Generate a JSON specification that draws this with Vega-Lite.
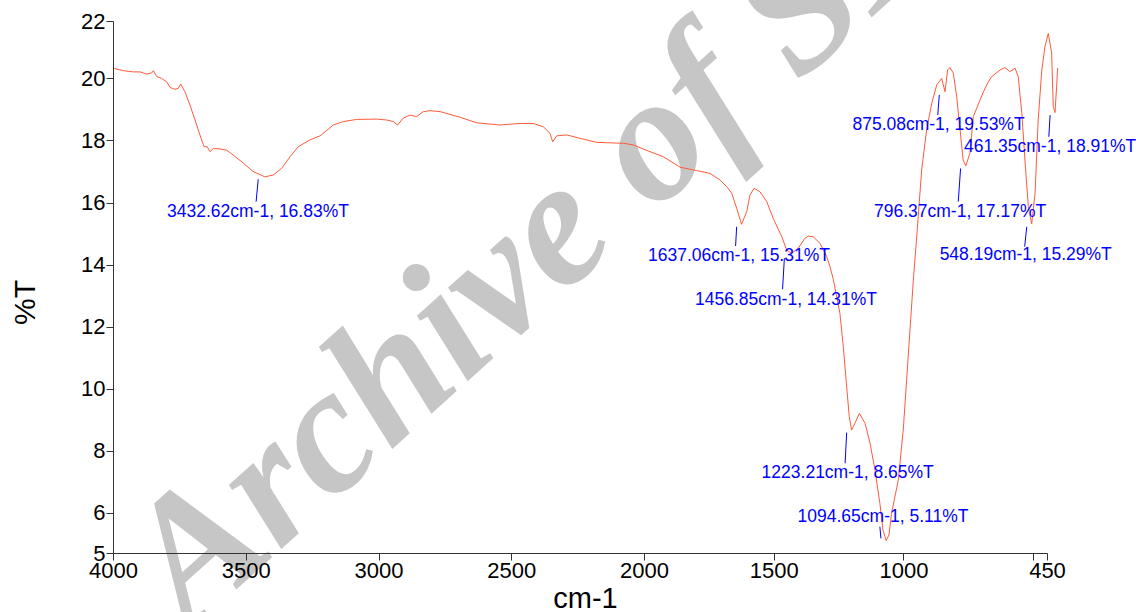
{
  "$schema": "https://vega.github.io/schema/vega-lite/v6.json",
  "width": 934,
  "height": 532,
  "autosize": "none",
  "padding": {"left": 113, "top": 21, "right": 89, "bottom": 59},
  "background": "white",
  "config": {"view": {"stroke": null}, "font": "Liberation Sans"},
  "datasets": {
    "spectrum": [
      {"wn": 4000, "t": 20.33}, {"wn": 3961, "t": 20.25}, {"wn": 3924, "t": 20.21}, {"wn": 3898, "t": 20.21},
      {"wn": 3873, "t": 20.14}, {"wn": 3854, "t": 20.18}, {"wn": 3848, "t": 20.25}, {"wn": 3835, "t": 20.06},
      {"wn": 3817, "t": 20.0}, {"wn": 3798, "t": 19.89}, {"wn": 3785, "t": 19.71}, {"wn": 3767, "t": 19.65},
      {"wn": 3754, "t": 19.68}, {"wn": 3745, "t": 19.82}, {"wn": 3729, "t": 19.57}, {"wn": 3710, "t": 19.14},
      {"wn": 3691, "t": 18.66}, {"wn": 3679, "t": 18.34}, {"wn": 3666, "t": 18.02}, {"wn": 3657, "t": 17.8},
      {"wn": 3645, "t": 17.8}, {"wn": 3635, "t": 17.64}, {"wn": 3622, "t": 17.74}, {"wn": 3597, "t": 17.73},
      {"wn": 3572, "t": 17.69}, {"wn": 3547, "t": 17.53}, {"wn": 3509, "t": 17.27}, {"wn": 3472, "t": 17.0},
      {"wn": 3428, "t": 16.83}, {"wn": 3396, "t": 16.89}, {"wn": 3365, "t": 17.1}, {"wn": 3333, "t": 17.48},
      {"wn": 3302, "t": 17.8}, {"wn": 3258, "t": 18.02}, {"wn": 3220, "t": 18.15}, {"wn": 3170, "t": 18.5},
      {"wn": 3133, "t": 18.61}, {"wn": 3082, "t": 18.68}, {"wn": 3007, "t": 18.69}, {"wn": 2969, "t": 18.66},
      {"wn": 2944, "t": 18.61}, {"wn": 2928, "t": 18.5}, {"wn": 2907, "t": 18.72}, {"wn": 2881, "t": 18.82},
      {"wn": 2856, "t": 18.77}, {"wn": 2831, "t": 18.93}, {"wn": 2806, "t": 18.96}, {"wn": 2768, "t": 18.93},
      {"wn": 2693, "t": 18.75}, {"wn": 2630, "t": 18.57}, {"wn": 2543, "t": 18.5}, {"wn": 2467, "t": 18.55},
      {"wn": 2417, "t": 18.55}, {"wn": 2379, "t": 18.44}, {"wn": 2354, "t": 18.23}, {"wn": 2344, "t": 17.96},
      {"wn": 2329, "t": 18.15}, {"wn": 2291, "t": 18.18}, {"wn": 2241, "t": 18.07}, {"wn": 2178, "t": 17.94},
      {"wn": 2078, "t": 17.91}, {"wn": 2041, "t": 17.86}, {"wn": 1977, "t": 17.64}, {"wn": 1926, "t": 17.48},
      {"wn": 1861, "t": 17.14}, {"wn": 1797, "t": 17.03}, {"wn": 1746, "t": 16.94}, {"wn": 1707, "t": 16.73},
      {"wn": 1681, "t": 16.51}, {"wn": 1662, "t": 16.3}, {"wn": 1643, "t": 15.82}, {"wn": 1624, "t": 15.3},
      {"wn": 1604, "t": 15.71}, {"wn": 1592, "t": 16.24}, {"wn": 1576, "t": 16.46}, {"wn": 1553, "t": 16.35},
      {"wn": 1527, "t": 16.03}, {"wn": 1502, "t": 15.49}, {"wn": 1469, "t": 14.9}, {"wn": 1450, "t": 14.47},
      {"wn": 1431, "t": 14.37}, {"wn": 1405, "t": 14.53}, {"wn": 1380, "t": 14.85}, {"wn": 1367, "t": 14.92},
      {"wn": 1348, "t": 14.9}, {"wn": 1322, "t": 14.69}, {"wn": 1296, "t": 14.26}, {"wn": 1283, "t": 13.93},
      {"wn": 1270, "t": 13.51}, {"wn": 1245, "t": 12.43}, {"wn": 1232, "t": 11.36}, {"wn": 1219, "t": 10.07},
      {"wn": 1209, "t": 9.1}, {"wn": 1200, "t": 8.67}, {"wn": 1187, "t": 8.89}, {"wn": 1170, "t": 9.21},
      {"wn": 1148, "t": 8.89}, {"wn": 1129, "t": 8.25}, {"wn": 1110, "t": 7.39}, {"wn": 1091, "t": 6.31},
      {"wn": 1079, "t": 5.45}, {"wn": 1067, "t": 5.11}, {"wn": 1056, "t": 5.29}, {"wn": 1046, "t": 5.99},
      {"wn": 1020, "t": 7.06}, {"wn": 1001, "t": 8.67}, {"wn": 988, "t": 10.28}, {"wn": 962, "t": 13.51},
      {"wn": 949, "t": 14.9}, {"wn": 930, "t": 17.05}, {"wn": 911, "t": 18.34}, {"wn": 891, "t": 19.2},
      {"wn": 872, "t": 19.79}, {"wn": 853, "t": 20.0}, {"wn": 840, "t": 19.57}, {"wn": 830, "t": 20.27},
      {"wn": 821, "t": 20.35}, {"wn": 808, "t": 20.17}, {"wn": 795, "t": 19.41}, {"wn": 782, "t": 18.34},
      {"wn": 770, "t": 17.37}, {"wn": 760, "t": 17.18}, {"wn": 744, "t": 17.59}, {"wn": 731, "t": 18.77},
      {"wn": 718, "t": 19.04}, {"wn": 692, "t": 19.57}, {"wn": 673, "t": 19.89}, {"wn": 660, "t": 20.06},
      {"wn": 628, "t": 20.27}, {"wn": 609, "t": 20.35}, {"wn": 590, "t": 20.22}, {"wn": 570, "t": 20.33},
      {"wn": 558, "t": 20.06}, {"wn": 544, "t": 18.88}, {"wn": 532, "t": 17.37}, {"wn": 519, "t": 15.87},
      {"wn": 506, "t": 15.31}, {"wn": 493, "t": 16.3}, {"wn": 481, "t": 18.66}, {"wn": 467, "t": 20.27},
      {"wn": 455, "t": 21.02}, {"wn": 442, "t": 21.45}, {"wn": 429, "t": 20.81}, {"wn": 423, "t": 19.09},
      {"wn": 416, "t": 18.9}, {"wn": 410, "t": 19.73}, {"wn": 406, "t": 20.33}
    ],
    "peaks": [
      {"label": "3432.62cm-1, 16.83%T", "x1": 3453, "y1": 16.75, "x2": 3461, "y2": 16.03, "lx": 3454, "ly": 15.71},
      {"label": "1637.06cm-1, 15.31%T", "x1": 1643, "y1": 15.22, "x2": 1647, "y2": 14.6, "lx": 1634, "ly": 14.28},
      {"label": "1456.85cm-1, 14.31%T", "x1": 1459, "y1": 14.21, "x2": 1466, "y2": 13.21, "lx": 1453, "ly": 12.86},
      {"label": "1223.21cm-1, 8.65%T", "x1": 1219, "y1": 8.59, "x2": 1225, "y2": 7.6, "lx": 1215, "ly": 7.28},
      {"label": "1094.65cm-1, 5.11%T", "x1": 1091, "y1": 5.56, "x2": 1087, "y2": 5.18, "lx": 1079, "ly": 5.88},
      {"label": "875.08cm-1, 19.53%T", "x1": 862, "y1": 19.47, "x2": 868, "y2": 18.82, "lx": 865, "ly": 18.5},
      {"label": "461.35cm-1, 18.91%T", "x1": 435, "y1": 18.82, "x2": 440, "y2": 18.12, "lx": 435, "ly": 17.8},
      {"label": "796.37cm-1, 17.17%T", "x1": 780, "y1": 17.1, "x2": 789, "y2": 16.03, "lx": 782, "ly": 15.71},
      {"label": "548.19cm-1, 15.29%T", "x1": 525, "y1": 15.22, "x2": 533, "y2": 14.58, "lx": 529, "ly": 14.31}
    ],
    "mark": [{"text": "Archive of SID", "wn": 3713, "t": 2.17}]
  },
  "layer": [
    {
      "data": {"name": "mark"},
      "mark": {"type": "text", "font": "Liberation Serif", "fontStyle": "italic", "fontWeight": "bold", "fontSize": 180, "angle": -42, "align": "left", "baseline": "alphabetic", "color": "#c6c6c6"},
      "encoding": {
        "x": {"field": "wn", "type": "quantitative"},
        "y": {"field": "t", "type": "quantitative"},
        "text": {"field": "text"}
      }
    },
    {
      "data": {"name": "spectrum"},
      "mark": {"type": "line", "color": "#ff5a3a", "strokeWidth": 1},
      "encoding": {
        "x": {
          "field": "wn", "type": "quantitative", "sort": null,
          "scale": {"domain": [4000, 2000, 447], "range": [0, 531, 934], "zero": false, "nice": false},
          "axis": {
            "title": "cm-1", "values": [4000, 3500, 3000, 2500, 2000, 1500, 1000, 500, 447],
            "format": "d", "zindex": 1,
            "labelExpr": "datum.value == 500 ? '' : (datum.value == 447 ? '450' : datum.label)",
            "grid": false, "domainColor": "#333333", "tickColor": "#333333", "tickSize": 7,
            "labelFontSize": 22, "labelColor": "#000000", "labelPadding": 0, "labelFlush": false,
            "titleFontSize": 29, "titleFontWeight": "normal", "titleColor": "#000000",
            "titleX": 472, "titleY": 45, "titleBaseline": "middle", "titleAlign": "center"
          }
        },
        "y": {
          "field": "t", "type": "quantitative",
          "scale": {"domain": [4.71, 21.85], "zero": false, "nice": false},
          "axis": {
            "title": "%T", "values": [4.71, 6, 8, 10, 12, 14, 16, 18, 20, 21.85], "zindex": 1,
            "labelExpr": "datum.value < 5 ? '5' : (datum.value > 21 ? '22' : format(datum.value, 'd'))",
            "grid": false, "domainColor": "#333333", "tickColor": "#333333", "tickSize": 7,
            "labelFontSize": 22, "labelColor": "#000000", "labelPadding": 1, "labelFlush": false,
            "titleFontSize": 30, "titleFontWeight": "normal", "titleColor": "#000000",
            "titleX": -88, "titleY": 281, "titleBaseline": "middle", "titleAlign": "center", "titleAngle": -90
          }
        }
      }
    },
    {
      "data": {"name": "peaks"},
      "mark": {"type": "rule", "color": "#0000ff", "strokeWidth": 1},
      "encoding": {
        "x": {"field": "x1", "type": "quantitative"},
        "y": {"field": "y1", "type": "quantitative"},
        "x2": {"field": "x2"},
        "y2": {"field": "y2"}
      }
    },
    {
      "data": {"name": "peaks"},
      "mark": {"type": "text", "color": "#0000ff", "fontSize": 17.5, "align": "center", "baseline": "middle", "font": "Liberation Sans"},
      "encoding": {
        "x": {"field": "lx", "type": "quantitative"},
        "y": {"field": "ly", "type": "quantitative"},
        "text": {"field": "label"}
      }
    }
  ]
}
